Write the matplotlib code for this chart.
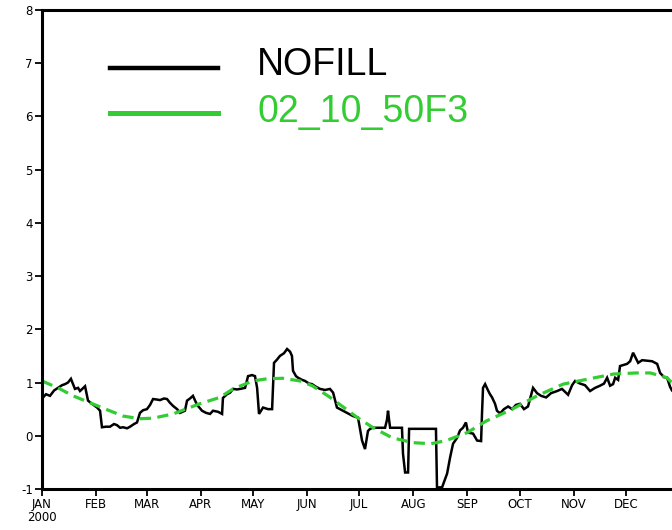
import matplotlib

matplotlib.use("Agg")

import matplotlib.pyplot as plt

# day of year 2000 (0 = Jan 1) and values
nofill_days = [
    0.6, 2.3, 4.6, 6.9, 9.2, 11.5, 13.2, 14.9, 16.6, 18.9, 20.7, 21.8, 24.7, 26.4,
    28.7, 31.6, 33.3, 34.4, 36.7, 39.0, 41.3, 43.0, 44.8, 46.5, 48.8, 50.5, 52.8,
    54.5, 56.2, 58.0, 60.2, 62.0, 63.7, 66.0, 67.7, 70.0, 71.7, 73.4, 75.2, 77.5,
    79.2, 82.0, 83.2, 84.9, 86.6, 88.4, 89.5, 91.8, 94.1, 96.4, 98.1, 101.0, 103.3,
    103.8, 106.1, 107.9, 109.6, 111.9, 113.6, 116.5, 118.2, 120.5, 122.2, 123.4,
    124.5, 126.8, 129.7, 132.0, 133.1, 134.8, 136.5, 138.8, 140.6, 142.3, 143.4,
    144.0, 145.7, 146.9, 149.2, 150.9, 153.2, 154.9, 157.2, 159.5, 162.4, 165.2,
    167.0, 169.2, 172.7, 175.6, 178.4, 181.3, 183.6, 185.3, 187.0, 188.2, 189.9,
    192.8, 196.8, 197.9, 198.5, 199.1, 199.7, 203.1, 206.5, 207.1, 208.3, 210.0,
    210.6, 216.9, 222.6, 226.0, 226.6, 229.5, 231.2, 232.4, 234.1, 235.8, 238.1,
    239.8, 241.5, 243.2, 244.4, 247.3, 249.6, 251.9, 252.4, 253.0, 254.2, 255.9,
    257.0, 258.2, 259.9, 261.0, 262.8, 265.0, 267.4, 269.7, 271.9, 274.2, 276.5,
    278.8, 281.7, 284.0, 286.3, 289.2, 292.0, 295.5, 298.3, 301.8, 304.1, 305.8,
    308.7, 311.5, 314.4, 317.3, 320.1, 322.4, 324.2, 325.9, 327.6, 328.8, 330.5,
    331.6, 335.6, 337.4, 339.1, 340.8, 342.0, 344.3, 347.2, 350.0, 352.9, 354.6,
    356.9, 358.6, 360.3, 361.4, 363.0, 366.0,
]
nofill_vals = [
    0.72, 0.78, 0.75, 0.85, 0.90, 0.95, 0.97, 1.00, 1.07, 0.88, 0.90, 0.84, 0.93, 0.66,
    0.60, 0.53, 0.47, 0.16, 0.17, 0.17, 0.22, 0.20, 0.15, 0.16, 0.14, 0.17, 0.22,
    0.25, 0.43, 0.48, 0.50, 0.58, 0.69, 0.68, 0.67, 0.70, 0.69, 0.62, 0.56, 0.50,
    0.43, 0.47, 0.66, 0.70, 0.75, 0.62, 0.56, 0.47, 0.43, 0.41, 0.47, 0.45, 0.41,
    0.71, 0.78, 0.81, 0.88, 0.87, 0.88, 0.90, 1.12, 1.14, 1.12, 0.90,
    0.41, 0.53, 0.50, 0.50, 1.37, 1.43, 1.50, 1.55, 1.63, 1.58, 1.50,
    1.22, 1.12, 1.09, 1.05, 1.03, 0.98, 0.97, 0.92, 0.88, 0.86, 0.88,
    0.81, 0.53, 0.47, 0.42, 0.37, 0.34, -0.09, -0.25, 0.09, 0.13, 0.15,
    0.15, 0.15, 0.30, 0.47, 0.30, 0.15, 0.15, 0.15, -0.34, -0.69, -0.69,
    0.13, 0.13, 0.13, 0.13, -0.97, -0.97, -0.82, -0.71, -0.41, -0.15, -0.04,
    0.10, 0.15, 0.25, 0.06, 0.04, -0.09, -0.10, 0.40, 0.90, 0.97, 0.85,
    0.78, 0.72, 0.60, 0.47, 0.42, 0.50, 0.55, 0.50, 0.58, 0.60, 0.50,
    0.55, 0.90, 0.80, 0.75, 0.72, 0.80, 0.84, 0.88, 0.77, 0.95, 1.03,
    0.98, 0.95, 0.84, 0.90, 0.94, 0.98, 1.09, 0.94, 0.97, 1.09, 1.05,
    1.31, 1.35, 1.40, 1.56, 1.45, 1.37, 1.42, 1.41, 1.40, 1.35, 1.18,
    1.10, 1.09, 0.92, 0.85, 0.80, 0.75,
]

filled_days = [
    0, 10.3, 17.8, 27.5, 37.3, 46.5, 56.2, 63.7, 75.2, 90.4, 102, 109.6, 121, 129,
    138, 148, 155, 164, 172, 181, 190, 201, 213, 223, 232, 244, 255, 268, 284, 299,
    314, 328, 341, 349, 358.6, 360.3, 366,
]
filled_vals = [
    1.03, 0.88, 0.75, 0.62, 0.49, 0.37, 0.32, 0.33, 0.41, 0.60, 0.72, 0.88, 1.03, 1.07,
    1.08, 1.03, 0.94, 0.75, 0.56, 0.34, 0.15, -0.04, -0.13, -0.15, -0.09, 0.06, 0.28,
    0.47, 0.75, 0.97, 1.07, 1.16, 1.18, 1.18, 1.09, 1.03, 0.90,
]

month_starts = [0, 31, 60, 91, 121, 152, 182, 213, 244, 274, 305, 335]
month_labels = ["JAN\n2000", "FEB", "MAR", "APR", "MAY", "JUN",
                "JUL", "AUG", "SEP", "OCT", "NOV", "DEC"]
y_ticks = [-1, 0, 1, 2, 3, 4, 5, 6, 7, 8]

GREEN = "#33cc33"

fig = plt.figure(figsize=(6.72, 5.30), dpi=100)
fig.patch.set_facecolor("white")
ax = fig.add_axes([0.0625, 0.0774, 0.9494, 0.9038])

ax.plot(nofill_days, nofill_vals, color="black", lw=1.8, solid_joinstyle="miter")
ax.plot(filled_days, filled_vals, color=GREEN, lw=2.3, dashes=(3.5, 2.0))

ax.set_xlim(0, 366)
ax.set_ylim(-1, 8)
ax.set_xticks(month_starts)
ax.set_xticklabels(month_labels, fontsize=8.5, linespacing=0.95)
ax.set_yticks(y_ticks)
ax.set_yticklabels([str(v) for v in y_ticks], fontsize=8.5)
ax.tick_params(direction="out", length=5, width=1.3, pad=1.5)
for side in ("left", "bottom", "top", "right"):
    ax.spines[side].set_linewidth(2.2)

# legend drawn by hand like the original
ax.plot([0.107, 0.276], [0.879, 0.879], transform=ax.transAxes, color="black", lw=3.2)
ax.plot([0.107, 0.276], [0.785, 0.785], transform=ax.transAxes, color=GREEN, lw=3.6)
ax.text(0.337, 0.885, "NOFILL", transform=ax.transAxes, fontsize=27,
        family="Liberation Sans", color="black", va="center", ha="left")
ax.text(0.337, 0.788, "02_10_50F3", transform=ax.transAxes, fontsize=27,
        family="Liberation Sans", color=GREEN, va="center", ha="left")

fig.savefig("out.png", dpi=100, facecolor="white")
